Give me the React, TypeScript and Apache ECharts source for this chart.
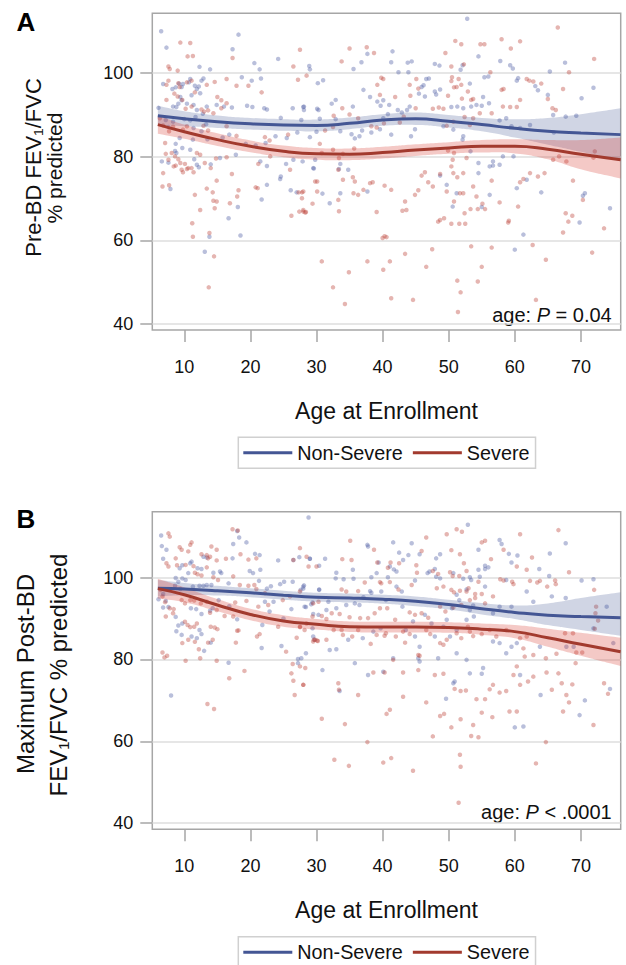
import { useEffect, useRef } from "react";
import * as echarts from "echarts";

// ---------- axis ticks ----------
const ageTicks = [10, 20, 30, 40, 50, 60, 70];
const valueTicks = [40, 60, 80, 100];

// ---------- fitted curves (age grid, fit, lower / upper confidence limits) ----------
const fitAges = [6, 10, 15, 20, 25, 30, 35, 40, 45, 50, 55, 60, 65, 70, 76];

const fitANonSevere = [89.8, 89.1, 88.4, 87.9, 87.6, 87.5, 88.0, 88.8, 89.1, 88.5, 87.7, 86.8, 86.1, 85.7, 85.3];
const hiANonSevere = [92.2, 90.9, 89.9, 89.3, 89.0, 88.9, 89.4, 90.2, 90.6, 90.0, 89.3, 89.0, 89.3, 90.2, 91.6];
const loANonSevere = [87.4, 87.3, 86.9, 86.5, 86.2, 86.1, 86.6, 87.4, 87.6, 87.0, 86.1, 84.6, 82.9, 81.2, 79.0];

const fitASevere = [87.7, 86.0, 84.1, 82.5, 81.3, 80.7, 80.6, 81.0, 81.6, 82.1, 82.5, 82.5, 81.8, 80.6, 79.3];
const hiASevere = [89.9, 87.7, 85.6, 83.9, 82.7, 82.1, 82.0, 82.4, 83.0, 83.5, 84.0, 84.2, 84.0, 84.0, 84.6];
const loASevere = [85.5, 84.3, 82.6, 81.1, 79.9, 79.3, 79.2, 79.6, 80.2, 80.7, 81.0, 80.8, 79.4, 77.0, 74.8];

const fitBNonSevere = [97.4, 97.2, 96.8, 96.3, 95.7, 95.2, 95.0, 94.7, 94.2, 93.4, 92.4, 91.5, 90.8, 90.5, 90.2];
const hiBNonSevere = [99.4, 98.7, 98.0, 97.4, 96.8, 96.3, 96.1, 95.8, 95.4, 94.6, 93.8, 93.2, 93.7, 95.0, 96.4];
const loBNonSevere = [95.4, 95.7, 95.6, 95.2, 94.6, 94.1, 93.9, 93.6, 93.0, 92.2, 91.0, 89.9, 88.4, 87.2, 85.8];

const fitBSevere = [97.3, 95.8, 93.3, 91.0, 89.4, 88.6, 88.0, 87.9, 87.9, 87.8, 87.4, 86.8, 85.3, 83.7, 81.9];
const hiBSevere = [99.7, 97.6, 94.8, 92.4, 90.8, 89.9, 89.3, 89.2, 89.2, 89.1, 88.8, 88.4, 87.5, 86.5, 85.3];
const loBSevere = [94.9, 94.0, 91.8, 89.6, 88.0, 87.3, 86.7, 86.6, 86.6, 86.5, 86.0, 85.2, 83.1, 80.9, 78.4];

// ---------- individual subjects: [age, value] ----------
const pointsANonSevere = [
  [6.5,110.0],[7.3,106.1],[18.2,109.2],[17.3,105.7],[6.8,97.4],[24.2,103.4],[20.6,102.4],[21.4,100.9],[12.3,101.5],[13.9,100.9],
  [28.9,101.7],[29.0,100.9],[18.7,99.0],[21.6,98.7],[20.2,98.2],[10.9,98.6],[10.7,97.8],[9.8,97.4],[9.2,97.5],[8.7,96.6],
  [9.6,96.7],[8.2,96.2],[11.6,97.0],[12.9,98.7],[12.6,98.2],[12.2,96.8],[11.9,96.2],[12.4,95.2],[11.1,94.7],[9.4,94.3],
  [9.6,93.5],[9.1,92.7],[8.3,92.0],[6.1,91.7],[8.8,91.9],[10.4,92.7],[11.4,92.4],[11.9,91.2],[12.8,90.3],[13.4,92.0],
  [14.9,92.4],[16.0,92.0],[17.2,91.8],[19.5,92.2],[20.3,91.9],[22.1,91.6],[22.5,91.3],[24.6,89.3],[26.4,91.6],[28.0,91.9],
  [28.1,91.2],[30.1,91.5],[11.7,89.5],[10.0,89.0],[10.9,88.7],[7.6,87.1],[7.2,88.8],[8.3,88.4],[11.4,86.9],[12.6,86.1],
  [13.3,87.8],[9.3,84.5],[8.7,83.1],[11.3,84.1],[13.5,84.2],[15.8,84.6],[16.8,85.3],[19.3,83.1],[22.3,83.3],[23.8,84.9],
  [25.5,84.5],[27.1,85.8],[29.0,84.7],[30.0,86.0],[6.6,78.9],[7.6,78.6],[8.6,81.4],[8.8,80.9],[9.7,82.1],[10.9,81.7],
  [11.5,79.4],[11.9,78.1],[12.2,77.5],[14.0,78.2],[15.4,79.7],[17.8,80.5],[20.8,82.7],[22.5,77.8],[21.5,78.9],[25.4,78.3],
  [26.5,79.3],[27.9,78.9],[29.5,77.3],[29.8,79.3],[22.5,73.3],[24.5,74.7],[24.6,75.3],[21.7,69.8],[26.1,72.0],[27.0,71.5],
  [7.9,72.3],[18.1,68.0],[16.7,65.3],[18.5,61.2],[13.8,60.9],[13.1,57.3],
  [52.8,113.0],[37.7,104.6],[36.8,102.6],[35.6,101.0],[41.5,105.2],[41.3,102.6],[43.8,102.5],[44.4,102.8],[47.9,102.2],[48.6,101.8],
  [31.0,98.3],[30.2,97.6],[42.4,100.2],[43.9,100.2],[46.6,98.6],[47.0,98.7],[46.2,97.1],[45.9,96.7],[45.5,95.1],[46.4,94.4],
  [47.9,95.6],[48.1,94.9],[48.7,96.1],[51.8,100.8],[52.1,101.9],[53.2,97.5],[54.5,104.0],[55.4,99.0],[56.0,99.2],[57.8,102.9],
  [59.3,101.9],[59.7,101.1],[60.5,98.8],[60.3,98.2],[63.5,95.9],[63.1,96.9],[65.0,94.8],[67.6,102.5],[65.3,100.4],[70.1,94.0],
  [71.9,96.5],[32.9,93.6],[32.3,92.7],[35.5,92.0],[37.1,96.0],[38.1,94.3],[39.2,93.2],[39.7,92.2],[40.1,93.5],[41.0,92.4],
  [42.3,91.2],[42.9,90.6],[43.7,91.2],[44.1,92.0],[40.8,90.2],[40.1,89.2],[39.6,86.6],[38.3,85.8],[36.5,84.9],[35.8,84.4],
  [35.3,85.4],[36.9,86.3],[33.6,86.1],[32.9,89.0],[30.5,89.1],[30.3,91.2],[28.1,92.0],[27.7,88.8],[29.6,77.2],[33.6,78.3],
  [33.4,77.1],[34.8,76.9],[41.3,85.3],[44.3,84.9],[44.9,86.6],[49.2,87.3],[50.7,86.5],[52.2,84.9],[53.4,92.0],[54.2,92.4],
  [55.0,92.2],[55.2,94.3],[56.1,92.8],[52.2,91.6],[51.3,92.0],[50.4,91.9],[57.7,88.7],[58.7,89.2],[59.5,87.3],[60.8,86.9],
  [62.3,87.6],[65.8,90.0],[65.9,85.8],[67.7,89.6],[69.3,89.8],[56.7,77.9],[57.7,78.1],[58.2,80.1],[59.8,80.1],[56.7,78.9],
  [56.2,77.7],[54.5,78.5],[53.3,81.3],[52.1,84.1],[48.7,75.5],[49.7,73.3],[50.6,68.1],[51.2,71.3],[54.5,76.1],[55.0,68.0],
  [56.2,70.9],[60.3,72.5],[61.8,74.5],[64.0,71.5],[70.6,71.3],[70.3,70.7],[69.8,64.3],[61.3,61.4],[60.0,57.8],[74.4,67.7],
  [32.0,68.9],[30.9,71.2],[33.6,71.3],[37.7,71.7],
];

const pointsASevere = [
  [9.4,107.3],[10.9,107.2],[10.5,104.0],[11.3,104.1],[7.6,101.6],[7.8,101.0],[9.0,100.6],[17.3,103.6],[27.5,105.6],[26.5,101.6],
  [27.2,98.4],[28.5,99.4],[7.6,98.2],[7.3,97.2],[9.1,97.6],[9.3,96.7],[10.4,97.8],[11.1,98.2],[11.6,95.4],[13.4,97.2],
  [14.6,97.9],[16.4,98.6],[17.9,97.0],[19.7,97.0],[21.7,95.4],[15.0,94.3],[15.6,93.5],[16.4,92.8],[8.5,95.1],[9.0,94.4],
  [7.3,93.6],[9.7,93.6],[10.2,91.5],[11.1,92.0],[12.6,91.3],[13.0,90.8],[13.6,91.1],[14.4,90.4],[15.6,91.6],[6.3,89.2],
  [6.8,87.5],[7.7,86.1],[8.3,87.2],[9.8,86.5],[10.4,87.3],[12.9,87.4],[13.6,86.3],[16.4,87.3],[17.9,85.0],[22.2,84.7],
  [22.9,83.9],[25.7,85.3],[7.1,83.3],[7.2,80.7],[8.1,80.9],[8.6,80.1],[9.1,79.4],[9.4,78.5],[10.1,78.3],[10.6,77.3],
  [11.1,77.3],[11.4,76.3],[9.6,76.9],[8.7,77.9],[7.6,79.3],[6.8,76.1],[6.7,72.9],[7.7,73.2],[8.4,77.7],[9.8,76.3],
  [10.4,77.1],[11.9,80.9],[12.4,80.5],[13.1,78.5],[14.0,77.3],[14.8,79.6],[16.4,79.9],[17.2,75.9],[21.2,78.3],[23.0,80.1],
  [26.0,76.9],[30.1,74.1],[11.6,70.9],[12.4,67.3],[14.4,69.5],[14.3,71.5],[14.6,67.7],[14.9,69.3],[13.4,72.4],[14.9,74.3],
  [16.9,68.9],[18.0,70.5],[18.2,72.0],[13.8,61.8],[11.2,64.1],[11.3,60.9],[14.5,56.2],[13.7,48.8],[20.8,72.7],[21.1,72.5],
  [26.2,65.9],[27.3,71.5],[27.8,71.5],[28.0,66.9],[28.3,66.7],[29.4,68.8],
  [66.5,110.9],[51.0,107.7],[51.9,106.9],[54.8,106.9],[55.4,106.9],[58.0,108.1],[60.8,107.6],[59.4,105.9],[35.0,105.9],[37.6,106.2],
  [38.7,104.8],[33.8,102.8],[49.5,104.8],[52.3,102.1],[50.4,101.6],[56.3,100.2],[68.2,100.2],[72.0,103.4],[39.8,98.9],[40.1,98.6],
  [39.2,97.2],[39.6,94.8],[41.9,94.3],[45.1,98.6],[44.1,97.2],[45.4,96.3],[44.2,94.6],[49.9,94.6],[50.4,98.1],[50.5,99.0],
  [50.8,96.6],[51.2,96.7],[51.5,98.6],[51.9,97.2],[52.9,95.6],[53.4,93.6],[53.7,93.8],[52.0,93.9],[58.0,96.0],[58.3,96.2],
  [60.8,93.6],[61.8,98.6],[62.2,98.2],[62.8,98.0],[64.0,97.5],[65.0,93.8],[65.7,91.6],[66.2,91.2],[67.3,96.2],[60.3,91.9],
  [59.3,91.9],[58.2,92.0],[56.5,90.4],[54.7,90.4],[53.2,87.6],[53.7,89.2],[52.4,89.5],[50.7,88.4],[49.7,87.4],[47.6,91.5],
  [48.5,91.8],[49.2,91.5],[45.0,91.6],[43.2,89.6],[42.6,88.2],[40.2,88.0],[39.1,87.0],[38.3,87.3],[36.3,89.2],[35.0,90.1],
  [33.9,91.6],[32.6,89.8],[32.5,87.1],[31.3,86.3],[30.5,83.1],[30.8,80.9],[32.5,81.7],[34.0,80.7],[35.7,82.0],[33.4,79.7],
  [33.3,76.9],[34.0,74.5],[35.5,75.1],[35.8,74.1],[38.1,73.7],[38.5,73.9],[36.3,70.9],[35.6,71.3],[37.1,72.1],[40.3,73.1],
  [41.3,72.1],[44.9,70.9],[45.4,72.0],[45.9,75.5],[46.4,76.3],[46.9,73.9],[43.4,69.3],[43.0,67.1],[43.6,67.3],[39.1,66.8],
  [33.4,67.0],[33.3,69.7],[29.8,74.1],[30.1,71.7],[28.0,71.7],[28.0,67.3],[28.4,66.8],[47.6,72.9],[48.7,75.9],[49.7,71.7],
  [50.4,77.7],[50.6,79.3],[50.8,80.9],[49.9,81.5],[50.7,76.1],[51.3,75.1],[52.2,76.1],[52.7,79.7],[53.7,72.9],[54.2,70.5],
  [55.1,68.8],[55.5,67.5],[54.4,67.5],[53.3,67.5],[52.4,66.5],[51.7,71.3],[52.2,71.3],[50.8,69.3],[60.5,68.1],[60.8,73.9],
  [61.3,74.7],[62.3,76.1],[63.5,75.3],[64.5,76.1],[65.8,79.3],[66.7,80.1],[67.8,78.9],[68.8,74.3],[70.3,69.7],[67.7,66.5],
  [68.1,64.5],[68.7,65.9],[67.3,61.9],[71.9,79.8],[72.1,81.3],[73.5,62.9],[56.5,74.3],[57.7,69.1],[59.1,64.7],[59.0,64.3],
  [48.4,64.5],[49.3,65.3],[50.4,64.0],[51.6,64.0],[52.5,64.0],[48.7,64.9],[40.3,61.0],[40.6,60.8],[40.0,60.6],[47.5,57.9],
  [53.4,58.6],[56.5,58.3],[62.7,58.9],[64.7,55.4],[71.7,57.1],[43.4,56.8],[41.1,55.0],[37.7,55.0],[34.9,52.4],[32.5,48.8],
  [34.3,44.8],[41.3,46.2],[44.6,45.8],[40.1,53.0],[46.6,53.7],[51.3,50.4],[51.8,47.6],[51.4,42.9],[54.4,50.2],[55.0,53.7],
  [63.2,45.8],[30.8,55.0],[27.8,70.1],[27.4,66.9],
];

const pointsBNonSevere = [
  [28.8,114.7],[6.5,110.3],[6.6,107.7],[6.8,104.6],[7.3,106.8],[18.0,111.4],[18.3,109.8],[17.4,108.2],[19.4,108.6],[17.3,104.7],
  [20.7,105.8],[21.4,105.5],[24.2,104.2],[26.5,104.3],[27.4,105.0],[29.0,104.6],[12.9,105.1],[13.4,104.9],[12.6,102.1],[12.0,102.3],
  [10.6,101.1],[9.3,102.3],[9.7,103.0],[10.9,103.5],[11.1,103.9],[8.7,99.9],[9.1,99.0],[9.7,99.8],[10.2,99.4],[8.6,98.0],
  [9.4,97.2],[11.3,97.8],[12.3,98.0],[12.9,98.0],[13.4,98.2],[14.1,98.2],[16.7,98.6],[15.6,101.1],[14.4,101.2],[15.4,101.5],
  [19.9,101.6],[20.4,101.1],[21.5,101.9],[21.3,99.2],[23.1,97.9],[22.5,97.3],[24.5,98.4],[25.1,99.0],[26.4,99.0],[28.1,98.1],
  [28.0,97.3],[30.4,97.1],[6.8,92.7],[7.2,94.3],[7.6,92.8],[6.8,96.0],[6.1,94.7],[8.7,90.4],[9.1,88.3],[9.7,88.8],
  [11.0,92.5],[11.8,92.3],[12.6,91.1],[13.9,91.9],[14.3,92.5],[15.2,94.5],[16.8,93.0],[18.0,89.8],[21.8,88.4],[22.9,91.7],
  [22.2,94.1],[23.5,94.1],[25.0,90.0],[26.2,92.3],[28.4,92.8],[29.2,93.5],[29.5,91.1],[30.3,90.9],[8.8,86.9],[9.6,86.0],
  [11.1,85.6],[11.9,85.2],[12.3,87.2],[12.6,86.2],[14.0,84.1],[13.0,82.1],[16.7,79.2],[21.7,82.8],[24.7,83.3],[27.2,80.1],
  [27.2,79.1],[8.0,71.2],[29.4,87.6],
  [52.9,112.9],[37.7,108.0],[37.8,107.6],[41.6,108.6],[44.4,108.4],[42.5,106.1],[43.9,105.5],[45.6,105.7],[48.7,105.7],[48.1,104.7],
  [43.1,104.3],[42.1,101.5],[39.4,103.7],[41.1,102.7],[40.8,100.1],[41.7,102.0],[39.1,101.1],[35.5,101.9],[35.6,99.7],[33.0,101.2],
  [32.9,99.8],[34.1,99.6],[38.3,100.1],[31.3,104.6],[30.4,102.9],[29.0,104.6],[28.0,97.8],[27.6,97.0],[30.4,97.0],[31.8,94.1],
  [29.4,93.9],[28.2,92.9],[31.5,92.1],[33.0,92.5],[34.5,93.3],[35.8,93.7],[37.1,95.2],[36.5,93.3],[38.1,96.7],[38.3,96.3],
  [39.8,96.6],[40.5,94.5],[42.1,97.8],[42.9,96.6],[44.9,99.3],[46.8,101.1],[47.1,101.5],[47.9,102.1],[48.7,99.8],[48.1,100.2],
  [50.7,101.1],[52.2,99.7],[53.2,100.1],[53.4,99.4],[52.7,97.1],[54.5,101.9],[55.5,102.9],[55.5,102.1],[56.0,102.5],[54.7,100.2],
  [55.5,97.8],[54.5,106.8],[57.7,109.2],[58.0,108.2],[58.7,99.4],[59.1,105.8],[60.4,105.4],[59.5,103.7],[63.7,102.1],[65.2,100.4],
  [65.3,105.9],[67.7,108.4],[70.1,99.3],[71.9,99.6],[73.9,92.9],[71.9,87.6],[74.9,84.0],[65.6,95.4],[67.7,95.0],[62.8,94.1],
  [61.8,96.6],[57.7,92.9],[59.5,92.9],[56.7,91.3],[51.6,94.5],[51.2,95.8],[50.5,92.5],[49.7,89.7],[49.2,88.0],[47.4,88.8],
  [46.4,90.9],[44.6,89.3],[43.0,92.9],[53.7,93.2],[53.2,92.1],[53.8,90.5],[52.7,89.7],[51.2,87.2],[50.2,85.6],[47.9,85.6],
  [45.6,83.1],[44.9,85.6],[43.5,87.2],[39.7,87.6],[38.6,86.8],[37.0,85.2],[34.8,84.8],[33.0,82.5],[32.0,82.3],[29.5,85.6],
  [29.7,84.8],[27.7,80.3],[28.4,81.5],[30.9,77.4],[35.8,79.1],[37.8,76.2],[40.1,77.0],[41.6,80.3],[45.4,80.3],[45.6,79.5],
  [48.4,80.3],[51.2,81.5],[50.9,74.6],[52.7,79.9],[53.2,76.6],[55.2,77.9],[55.0,76.5],[56.7,84.4],[57.7,84.0],[59.5,83.1],
  [60.3,84.0],[58.7,81.5],[60.8,76.2],[63.8,83.1],[67.8,83.1],[68.9,83.1],[70.6,70.0],[69.8,66.4],[74.4,72.8],[63.9,71.3],
  [61.3,63.6],[60.0,63.4],[49.6,70.4],[50.7,74.2],[33.5,72.3],
];

const pointsBSevere = [
  [7.6,110.8],[7.8,110.0],[17.3,111.8],[18.1,111.5],[11.1,108.6],[10.9,108.0],[9.3,107.4],[9.6,106.8],[10.6,106.4],[12.6,105.7],
  [13.4,105.5],[13.9,105.1],[14.1,107.6],[14.9,106.8],[13.6,104.7],[14.9,104.2],[16.3,104.6],[18.5,105.7],[19.7,104.4],[20.9,104.7],
  [27.5,107.2],[26.5,104.3],[28.5,105.1],[28.8,102.7],[30.0,102.7],[7.3,103.5],[7.6,102.7],[8.7,104.7],[8.9,103.0],[10.2,103.1],
  [11.4,102.8],[11.6,101.2],[12.0,100.8],[12.6,100.5],[13.4,102.5],[14.4,100.1],[15.1,99.4],[17.4,100.3],[18.4,98.2],[19.7,98.0],
  [20.6,98.2],[20.9,97.2],[22.2,96.2],[6.4,97.0],[6.7,95.4],[7.1,94.0],[7.8,92.5],[8.4,92.3],[9.6,94.5],[10.1,93.7],
  [10.9,94.5],[11.5,94.4],[12.5,93.7],[13.4,94.1],[13.9,91.4],[14.9,92.1],[16.1,90.6],[17.7,93.9],[19.4,94.3],[21.2,92.9],
  [22.7,93.3],[24.9,94.5],[26.0,95.4],[27.5,96.6],[29.5,93.7],[30.3,94.1],[7.2,90.5],[8.3,91.3],[10.1,89.2],[10.5,88.4],
  [10.9,87.9],[11.5,88.0],[11.9,88.8],[14.0,88.0],[14.6,87.8],[15.0,87.4],[17.4,90.5],[18.2,87.1],[21.4,86.2],[24.2,88.0],
  [27.5,87.9],[29.8,84.8],[29.5,84.4],[30.2,84.5],[10.6,84.8],[11.6,84.3],[12.2,82.5],[13.6,84.1],[14.3,84.8],[9.7,84.0],
  [17.8,84.1],[21.0,85.6],[27.0,85.3],[10.2,79.7],[12.4,80.3],[14.9,79.7],[6.7,81.7],[7.0,80.5],[7.4,80.9],[16.8,75.4],
  [19.1,77.2],[25.4,81.9],[26.2,76.6],[26.4,78.9],[26.5,74.8],[26.7,71.3],[28.0,73.8],[28.3,77.9],[13.5,69.1],[14.5,67.9],
  [18.0,87.0],
  [66.6,111.6],[51.2,111.8],[52.0,111.2],[49.7,110.6],[46.6,109.8],[35.1,109.0],[38.7,106.8],[45.9,106.5],[50.4,106.7],[51.7,105.7],
  [55.0,108.6],[55.5,109.0],[58.3,106.8],[62.6,104.9],[60.8,110.6],[60.3,102.7],[61.8,101.9],[33.9,104.5],[35.3,104.3],[39.2,103.7],
  [40.8,102.4],[41.2,103.7],[42.5,103.5],[45.1,103.0],[45.2,101.2],[47.6,101.6],[48.4,100.9],[50.2,101.3],[50.6,100.4],[52.3,103.5],
  [56.4,104.5],[52.7,101.6],[51.6,100.4],[54.5,99.0],[57.8,99.6],[58.3,99.3],[59.6,99.0],[59.8,98.4],[62.3,99.2],[63.4,98.8],
  [63.8,99.2],[64.9,97.8],[66.1,99.3],[66.2,98.4],[68.2,101.3],[72.0,97.0],[33.8,97.1],[34.5,96.6],[36.3,96.7],[37.3,98.8],
  [39.6,98.9],[39.8,98.6],[41.1,98.9],[42.4,97.1],[44.4,98.2],[48.2,97.4],[49.2,97.8],[50.4,97.0],[50.8,96.4],[51.7,96.8],
  [52.7,96.6],[53.0,97.4],[54.0,96.0],[54.0,95.0],[55.0,96.0],[56.7,95.4],[55.5,93.7],[53.2,94.5],[51.9,93.3],[50.7,92.7],
  [49.5,91.7],[48.7,92.9],[46.9,90.2],[45.9,91.3],[44.9,90.9],[44.1,91.5],[41.9,89.7],[40.7,92.5],[39.6,92.5],[38.8,91.3],
  [37.8,90.1],[36.6,90.1],[35.0,90.3],[33.5,91.1],[32.3,91.3],[31.5,89.9],[30.8,90.6],[29.4,90.5],[28.5,88.8],[27.5,88.0],
  [28.2,87.2],[29.6,84.8],[30.1,84.6],[31.5,84.8],[32.6,87.2],[33.8,87.2],[34.0,86.0],[35.4,85.6],[36.3,87.2],[38.2,83.8],
  [39.1,86.0],[40.3,85.8],[40.5,86.4],[42.0,85.6],[43.1,86.8],[43.4,84.1],[44.1,86.2],[46.6,87.2],[47.2,86.2],[48.7,84.0],
  [49.2,83.6],[49.7,84.8],[51.2,86.4],[51.9,85.2],[53.2,86.8],[52.9,88.0],[53.7,85.7],[55.0,86.2],[56.2,87.2],[57.2,85.6],
  [58.7,87.2],[60.8,85.2],[61.8,85.6],[61.3,82.7],[61.5,80.7],[62.8,81.1],[64.7,80.3],[66.3,81.4],[67.6,86.4],[68.8,86.4],
  [69.3,81.7],[70.2,81.7],[72.1,87.5],[72.2,91.3],[72.3,92.9],[72.6,89.5],[27.5,78.3],[28.0,73.8],[33.3,74.2],[33.4,72.6],
  [36.3,71.3],[38.6,76.8],[40.3,76.8],[41.6,79.9],[43.1,76.8],[45.4,81.1],[45.6,80.9],[45.4,77.4],[46.6,69.5],[47.9,76.2],
  [49.2,76.5],[50.9,72.8],[51.8,72.3],[52.6,72.4],[54.2,70.3],[55.5,70.3],[56.2,72.7],[56.7,73.8],[57.7,71.9],[58.7,72.3],
  [59.8,76.2],[60.3,78.3],[60.8,73.8],[62.0,74.6],[62.8,75.8],[64.8,76.8],[65.6,72.6],[66.6,76.6],[67.1,74.2],[67.8,71.3],
  [68.2,69.5],[68.7,73.9],[69.2,79.1],[67.3,67.3],[71.9,64.0],[73.5,74.2],[74.1,71.6],[59.2,67.3],[60.3,67.3],[56.6,65.9],
  [55.0,67.0],[51.8,65.4],[49.3,66.7],[48.7,66.2],[50.4,63.4],[47.6,61.2],[53.4,61.3],[54.5,61.0],[53.7,64.0],[40.6,66.7],
  [41.1,67.7],[30.8,65.5],[34.3,64.2],[32.7,55.5],[34.9,54.0],[40.1,54.8],[41.3,55.9],[44.6,52.8],[51.7,56.7],[51.8,53.8],
  [51.5,45.0],[63.2,54.6],[64.7,59.8],[37.7,59.8],[43.1,70.9],
];

// ---------- texts ----------
const panelLetters = ["A", "B"];
const yTitlesA = ["Pre-BD FEV\u2081/FVC", "% predicted"];
const yTitlesB = ["Maximum Post-BD", "FEV\u2081/FVC % predicted"];
const xTitle = "Age at Enrollment";
const pTexts = [["age: ", "P", " = 0.04"], ["age: ", "P", " < .0001"]];
const groupNames = ["Non-Severe", "Severe"];

const FONT = "'Liberation Sans', Arial, Helvetica, sans-serif";
const BLUE = "#445694";
const RED = "#a23a2e";
const BLUE_DOT = "rgba(80,95,165,0.5)";
const RED_DOT = "rgba(190,70,60,0.5)";
const BLUE_BAND = "rgba(68,86,148,0.25)";
const RED_BAND = "rgba(214,60,50,0.28)";
const SMOOTH = 0.5;

function buildOption() {
  const grids = [
    { left: 152.3, top: 13.3, width: 468.4, height: 316.7 },
    { left: 152.3, top: 511.7, width: 468.4, height: 317.6 },
  ].map((g) => ({
    ...g,
    show: true,
    borderColor: "#a6a6a6",
    borderWidth: 1.5,
    backgroundColor: "transparent",
  }));

  const yRanges = [
    [38.6, 114.3],
    [38.5, 116.1],
  ];

  const xAxes = [0, 1].map((i) => ({
    type: "value",
    gridIndex: i,
    min: 5.16,
    max: 76.02,
    name: xTitle,
    nameLocation: "middle",
    nameGap: 69,
    nameTextStyle: { fontFamily: FONT, fontSize: 23, color: "#111" },
    axisLine: { show: false },
    axisTick: { show: true, length: 12, customValues: ageTicks, lineStyle: { color: "#a6a6a6", width: 1.5 } },
    axisLabel: { customValues: ageTicks, margin: 28, fontFamily: FONT, fontSize: 18, color: "#111" },
    splitLine: { show: false },
  }));

  const yAxes = [0, 1].map((i) => ({
    type: "value",
    gridIndex: i,
    min: yRanges[i][0],
    max: yRanges[i][1],
    axisLine: { show: false },
    axisTick: { show: true, length: 12, customValues: valueTicks, lineStyle: { color: "#a6a6a6", width: 1.5 } },
    axisLabel: { customValues: valueTicks, margin: 19, fontFamily: FONT, fontSize: 18, color: "#111" },
    splitLine: { show: true, lineStyle: { color: "#dedede", width: 1.5 } },
  }));

  const scatter = (name: string, axis: number, pts: number[][], color: string) => ({
    name,
    type: "scatter",
    xAxisIndex: axis,
    yAxisIndex: axis,
    data: pts,
    symbol: "circle",
    symbolSize: 4.5,
    itemStyle: { color },
    silent: true,
    z: 2,
  });

  // confidence band: one polygon built through the axis scales (api.coord)
  const band = (name: string, axis: number, lo: number[], hi: number[], color: string) => ({
    name,
    type: "custom",
    xAxisIndex: axis,
    yAxisIndex: axis,
    data: fitAges.map((a, k) => [a, lo[k], hi[k]]),
    encode: { x: 0, y: [1, 2] },
    silent: true,
    clip: true,
    z: 3,
    renderItem: (params: any, api: any) => {
      if (params.dataIndex !== 0) return null;
      const upper = fitAges.map((a, k) => api.coord([a, hi[k]]));
      const lower = fitAges.map((a, k) => api.coord([a, lo[k]])).reverse();
      const n = upper.length;
      // duplicate end vertices so the smoothed outline keeps straight, square ends
      const pts = [upper[0], ...upper, upper[n - 1], lower[0], ...lower, lower[n - 1]];
      return {
        type: "polygon",
        shape: { points: pts, smooth: SMOOTH },
        style: { fill: color, stroke: "none" },
      };
    },
  });

  const fit = (name: string, axis: number, vals: number[], color: string) => ({
    name,
    type: "line",
    xAxisIndex: axis,
    yAxisIndex: axis,
    data: fitAges.map((a, k) => [a, vals[k]]),
    symbol: "none",
    smooth: SMOOTH,
    color,
    lineStyle: { color, width: 3 },
    silent: true,
    z: 4,
  });

  const series = [
    scatter("Non-Severe subjects A", 0, pointsANonSevere, BLUE_DOT),
    scatter("Severe subjects A", 0, pointsASevere, RED_DOT),
    band("Non-Severe band A", 0, loANonSevere, hiANonSevere, BLUE_BAND),
    band("Severe band A", 0, loASevere, hiASevere, RED_BAND),
    fit(groupNames[0], 0, fitANonSevere, BLUE),
    fit(groupNames[1], 0, fitASevere, RED),
    scatter("Non-Severe subjects B", 1, pointsBNonSevere, BLUE_DOT),
    scatter("Severe subjects B", 1, pointsBSevere, RED_DOT),
    band("Non-Severe band B", 1, loBNonSevere, hiBNonSevere, BLUE_BAND),
    band("Severe band B", 1, loBSevere, hiBSevere, RED_BAND),
    fit(groupNames[0], 1, fitBNonSevere, BLUE),
    fit(groupNames[1], 1, fitBSevere, RED),
  ];

  const legendTops = [437.3, 936.7];
  const legend = legendTops.map((top) => ({
    data: groupNames.map((n) => ({ name: n, icon: "rect" })),
    left: 238.3,
    top,
    orient: "horizontal",
    itemWidth: 49,
    itemHeight: 3,
    itemGap: 10,
    padding: [5.5, 6, 5.5, 5],
    borderColor: "#d0d0d0",
    borderWidth: 1.5,
    textStyle: { fontFamily: FONT, fontSize: 19.8, color: "#111" },
    selectedMode: false,
  }));

  const rotText = (text: string, x: number, y: number, size: number) => ({
    type: "text",
    x,
    y,
    rotation: Math.PI / 2,
    silent: true,
    style: { text, fontFamily: FONT, fontSize: size, fill: "#111", align: "center", verticalAlign: "middle" },
  });

  const pText = (parts: string[], y: number) => ({
    type: "text",
    x: 611.7,
    y,
    silent: true,
    style: {
      text: `{n|${parts[0]}}{i|${parts[1]}}{n|${parts[2]}}`,
      align: "right",
      verticalAlign: "middle",
      rich: {
        n: { fontFamily: FONT, fontSize: 20, fill: "#111" },
        i: { fontFamily: FONT, fontSize: 20, fontStyle: "italic", fill: "#111" },
      },
    },
  });

  const letter = (text: string, x: number, y: number) => ({
    type: "text",
    x,
    y,
    silent: true,
    style: { text, fontFamily: FONT, fontSize: 26, fontWeight: "bold", fill: "#000", align: "center", verticalAlign: "middle" },
  });

  const graphic = [
    letter(panelLetters[0], 26, 21.7),
    letter(panelLetters[1], 25.8, 519.2),
    rotText(yTitlesA[0], 33.3, 167.5, 22),
    rotText(yTitlesA[1], 54.5, 168, 21),
    rotText(yTitlesB[0], 25.5, 674, 24),
    rotText(yTitlesB[1], 58.5, 675, 24),
    pText(pTexts[0], 315),
    pText(pTexts[1], 812),
  ];

  return {
    animation: false,
    backgroundColor: "#ffffff",
    grid: grids,
    xAxis: xAxes,
    yAxis: yAxes,
    legend,
    series,
    graphic,
  };
}

export default function App() {
  const ref = useRef<HTMLDivElement>(null);
  useEffect(() => {
    if (!ref.current) return;
    const chart = echarts.init(ref.current, undefined, { renderer: "svg" });
    chart.setOption(buildOption() as any);
    return () => chart.dispose();
  }, []);
  return (
    <div
      ref={ref}
      style={{ position: "absolute", left: 0, top: 0, width: 626, height: 965, background: "#fff" }}
    />
  );
}
